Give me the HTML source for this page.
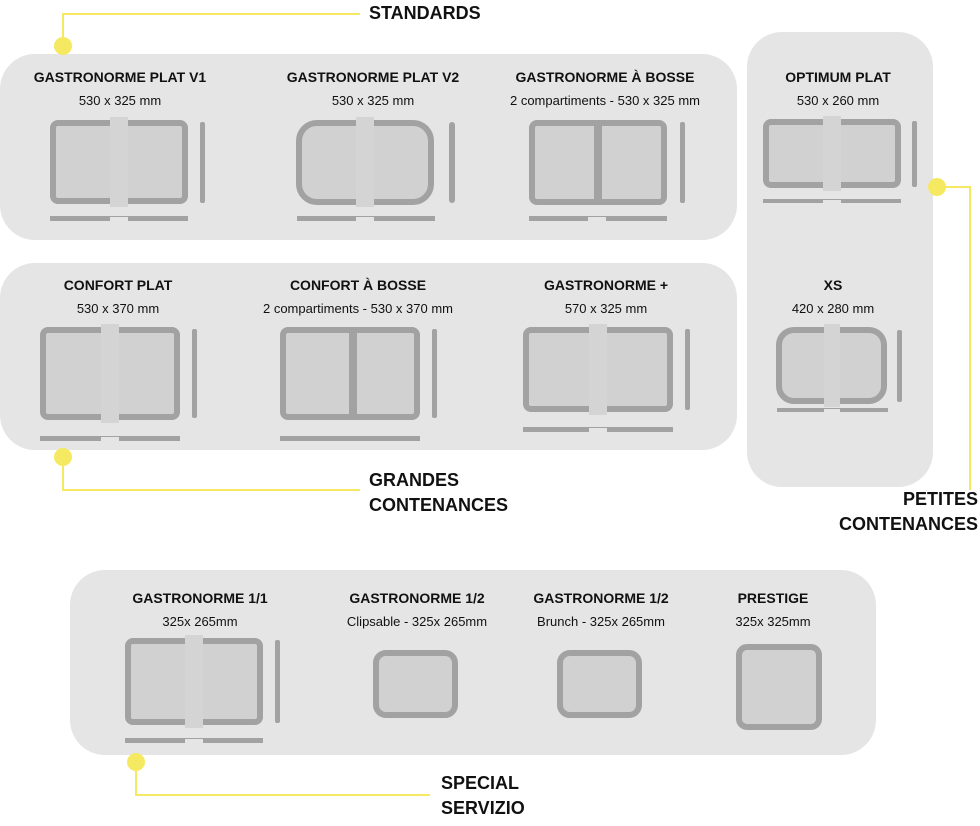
<!DOCTYPE html><html><head><style>body{margin:0;background:#fff}</style></head><body>
<svg width="980" height="821" xmlns="http://www.w3.org/2000/svg" font-family="Liberation Sans, sans-serif">
<rect x="0" y="54" width="737" height="186" rx="35" fill="#e5e5e5"/>
<rect x="0" y="263" width="737" height="187" rx="35" fill="#e5e5e5"/>
<rect x="747" y="32" width="186" height="455" rx="35" fill="#e5e5e5"/>
<rect x="70" y="570" width="806" height="185" rx="35" fill="#e5e5e5"/>
<g fill="none" stroke="#f5e961" stroke-width="2">
<path d="M63 46V14H360"/><path d="M63 457V490H360"/><path d="M937 187H970V490"/><path d="M136 762V795H430"/></g>
<g fill="#f5e961"><circle cx="63" cy="46" r="9"/><circle cx="63" cy="457" r="9"/><circle cx="937" cy="187" r="9"/><circle cx="136" cy="762" r="9"/></g>
<g font-weight="bold" font-size="18" fill="#111">
<text x="369" y="19">STANDARDS</text><text x="369" y="486">GRANDES</text><text x="369" y="511">CONTENANCES</text>
<text x="978" y="505" text-anchor="end">PETITES</text><text x="978" y="530" text-anchor="end">CONTENANCES</text>
<text x="441" y="789">SPECIAL</text><text x="441" y="814">SERVIZIO</text></g>
<g text-anchor="middle" fill="#111">
<g font-weight="bold" font-size="14">
<text x="120" y="82">GASTRONORME PLAT V1</text><text x="373" y="82">GASTRONORME PLAT V2</text><text x="605" y="82">GASTRONORME À BOSSE</text><text x="838" y="82">OPTIMUM PLAT</text>
<text x="118" y="290">CONFORT PLAT</text><text x="358" y="290">CONFORT À BOSSE</text><text x="606" y="290">GASTRONORME +</text><text x="833" y="290">XS</text>
<text x="200" y="603">GASTRONORME 1/1</text><text x="417" y="603">GASTRONORME 1/2</text><text x="601" y="603">GASTRONORME 1/2</text><text x="773" y="603">PRESTIGE</text></g>
<g font-size="13">
<text x="120" y="105">530 x 325 mm</text><text x="373" y="105">530 x 325 mm</text><text x="605" y="105">2 compartiments - 530 x 325 mm</text><text x="838" y="105">530 x 260 mm</text>
<text x="118" y="313">530 x 370 mm</text><text x="358" y="313">2 compartiments - 530 x 370 mm</text><text x="606" y="313">570 x 325 mm</text><text x="833" y="313">420 x 280 mm</text>
<text x="200" y="626">325x 265mm</text><text x="417" y="626">Clipsable - 325x 265mm</text><text x="601" y="626">Brunch - 325x 265mm</text><text x="773" y="626">325x 325mm</text></g></g>
<g fill="#d1d1d1" stroke="#a2a2a2" stroke-width="6">
<rect x="53" y="123" width="132" height="78" rx="5"/>
<rect x="299" y="123" width="132" height="79" rx="18"/>
<rect x="532" y="123" width="132" height="79" rx="5"/>
<rect x="766" y="122" width="132" height="63" rx="5"/>
<rect x="779" y="330" width="105" height="71" rx="15"/>
<rect x="43" y="330" width="134" height="87" rx="5"/>
<rect x="283" y="330" width="134" height="87" rx="5"/>
<rect x="526" y="330" width="144" height="79" rx="5"/>
<rect x="128" y="641" width="132" height="81" rx="5"/>
<rect x="376" y="653" width="79" height="62" rx="10"/>
<rect x="560" y="653" width="79" height="62" rx="10"/>
<rect x="739" y="647" width="80" height="80" rx="8"/>
</g>
<g stroke="#a2a2a2" stroke-width="8"><line x1="598" y1="123" x2="598" y2="202"/><line x1="353" y1="330" x2="353" y2="417"/></g>
<g fill="#d4d4d4">
<rect x="110" y="117" width="18" height="90"/><rect x="356" y="117" width="18" height="90"/><rect x="823" y="116" width="18" height="75"/><rect x="824" y="324" width="16" height="83"/>
<rect x="101" y="324" width="18" height="99"/><rect x="589" y="324" width="18" height="91"/><rect x="185" y="635" width="18" height="93"/></g>
<g fill="#a2a2a2">
<rect x="200" y="122" width="5" height="81" rx="2"/><rect x="449" y="122" width="6" height="81" rx="3"/><rect x="680" y="122" width="5" height="81" rx="2"/><rect x="912" y="121" width="5" height="66" rx="2"/><rect x="897" y="330" width="5" height="72" rx="2"/>
<rect x="192" y="329" width="5" height="89" rx="2"/><rect x="432" y="329" width="5" height="89" rx="2"/><rect x="685" y="329" width="5" height="81" rx="2"/><rect x="275" y="640" width="5" height="83" rx="2"/>
<rect x="50" y="216" width="138" height="5"/><rect x="297" y="216" width="138" height="5"/><rect x="529" y="216" width="138" height="5"/><rect x="763" y="199" width="138" height="4"/><rect x="777" y="408" width="111" height="4"/>
<rect x="40" y="436" width="140" height="5"/><rect x="280" y="436" width="140" height="5"/><rect x="523" y="427" width="150" height="5"/><rect x="125" y="738" width="138" height="5"/></g>
<g fill="#e5e5e5"><rect x="110" y="217" width="18" height="4"/><rect x="356" y="217" width="18" height="4"/><rect x="588" y="217" width="18" height="4"/><rect x="823" y="200" width="18" height="3"/><rect x="824" y="409" width="16" height="3"/><rect x="101" y="437" width="18" height="4"/><rect x="589" y="428" width="18" height="4"/><rect x="185" y="739" width="18" height="4"/></g>
</svg></body></html>
